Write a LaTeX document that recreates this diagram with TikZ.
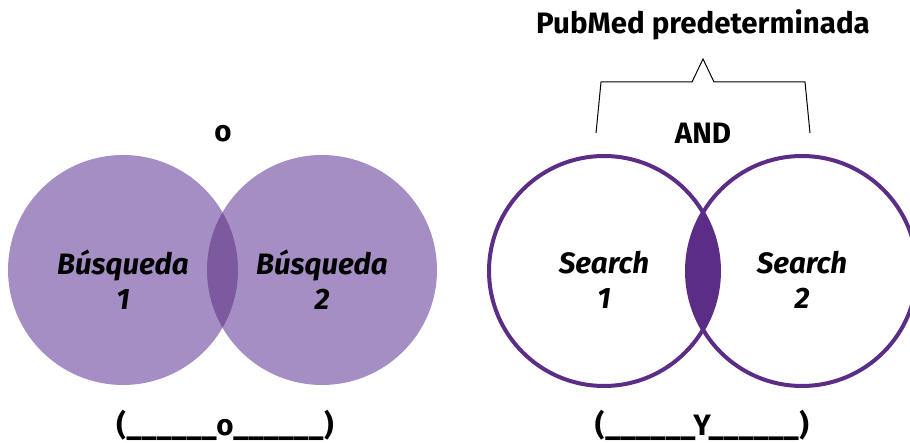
\documentclass[tikz,border=0pt]{standalone}
\usepackage{fontspec}
\setmainfont{Fira Sans}
\definecolor{lightp}{HTML}{A48EC3}
\definecolor{midp}{HTML}{7D5AA0}
\definecolor{darkp}{HTML}{5B2D87}
\tikzset{
  lbl/.style={font=\fontsize{29.5}{35}\selectfont\bfseries\itshape, align=center, inner sep=0pt, text=black},
  head/.style={font=\fontsize{29.5}{30}\selectfont\bfseries, inner sep=0pt, text=black},
  blank/.style={font=\fontsize{29.5}{30}\selectfont\bfseries, inner sep=0pt, text=black},
  softc/.style={circle, minimum size=230pt, inner sep=0pt, fill=lightp},
  ringc/.style={circle, minimum size=230pt, inner sep=0pt, draw=darkp, line width=4pt},
  brace/.style={draw=black, line width=1pt}
}
\begin{document}
\begin{tikzpicture}[x=1pt,y=-1pt]
\useasboundingbox (0,0) rectangle (910,443);
% left diagram
\node[softc] (L1) at (123,270) {};
\node[softc] (L2) at (322,270) {};
\begin{scope}
  \clip (123,270) circle (115pt);
  \fill[midp] (322,270) circle (115pt);
\end{scope}
\node[lbl] (t1) at (123,280) {Búsqueda\\1};
\node[lbl] (t2) at (322,280) {Búsqueda\\2};
\node[head] (or) at (223,134) {o};
\node[blank] (b1) at (225,425) {(\_\_\_\_\_\_o\_\_\_\_\_\_)};
% right diagram
\begin{scope}
  \clip (604,271) circle (115pt);
  \fill[darkp] (802,271) circle (115pt);
\end{scope}
\node[ringc] (R1) at (604,271) {};
\node[ringc] (R2) at (802,271) {};
\node[lbl] (s1) at (604,280) {Search\\1};
\node[lbl] (s2) at (802,280) {Search\\2};
\node[head] (and) at (703,133) {AND};
\node[head] (pm) at (703,25) {PubMed predeterminada};
\node[blank] (b2) at (702,425) {(\_\_\_\_\_\_Y\_\_\_\_\_\_)};
% bracket
\coordinate (k1) at (596,133);
\coordinate (k2) at (601,82);
\coordinate (k3) at (692,82);
\coordinate (k4) at (703,59);
\coordinate (k5) at (714,82);
\coordinate (k6) at (805,82);
\coordinate (k7) at (810,133);
\draw[brace] (k1) -- (k2) -- (k3) -- (k4) -- (k5) -- (k6) -- (k7);
\end{tikzpicture}
\end{document}
